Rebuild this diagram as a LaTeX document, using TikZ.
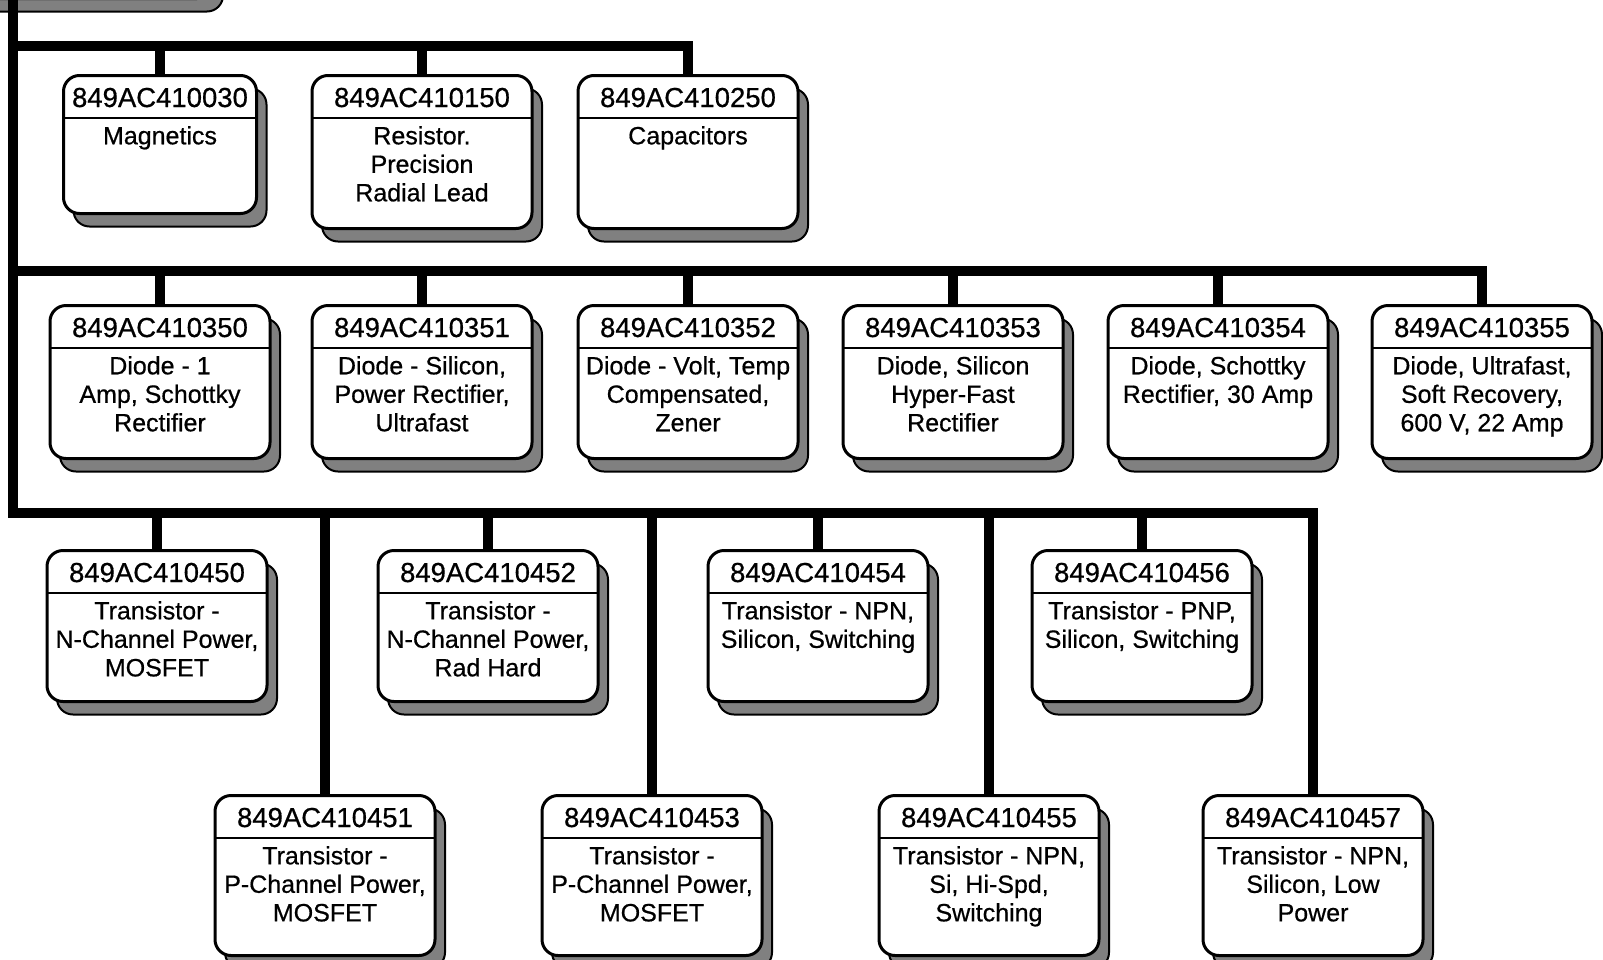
\documentclass[tikz,border=0pt]{standalone}
\usepackage{fontspec}
\setmainfont{Liberation Sans}
\newfontfamily\partfont{Liberation Sans}[FakeBold=0.6]
\usetikzlibrary{shadows}

\begin{document}
\begin{tikzpicture}[x=1pt,y=-1pt,
	bus/.style={line width=10pt},
	pbox/.style={draw, line width=3pt, rounded corners=16pt, fill=white,
		minimum width=220pt, minimum height=153pt, anchor=north,
		drop shadow={shadow xshift=10pt, shadow yshift=-13pt, fill=black!50, draw=black, line width=2pt, opacity=1},
		path picture={\draw[line width=2pt] ([yshift=-42pt]path picture bounding box.north west) -- ([yshift=-42pt]path picture bounding box.north east);}},
	pid/.style={anchor=base, inner sep=0pt, yshift=-33pt, font=\partfont\fontsize{27.5}{30}\selectfont},
	pbody/.style={anchor=north, inner sep=0pt, yshift=-52pt, align=center, font=\partfont\fontsize{25}{28.5}\selectfont}]
	\useasboundingbox (0,0) rectangle (1603,959);

	% parent box, cut off at the top
	\node[pbox, minimum width=260pt, minimum height=60pt, anchor=south] (top) at (83,0) {};

	% first level
	\node[pbox, minimum width=193pt, minimum height=138pt, label={[pid]north:849AC410030}, label={[pbody]north:Magnetics}] (P030) at (160,74) {};
	\node[pbox, label={[pid]north:849AC410150}, label={[pbody]north:{Resistor.\\Precision\\Radial Lead}}] (P150) at (422,74) {};
	\node[pbox, label={[pid]north:849AC410250}, label={[pbody]north:Capacitors}] (P250) at (688,74) {};

	% diodes
	\node[pbox, label={[pid]north:849AC410350}, label={[pbody]north:{Diode - 1\\Amp, Schottky\\Rectifier}}] (P350) at (160,304) {};
	\node[pbox, label={[pid]north:849AC410351}, label={[pbody]north:{Diode - Silicon,\\Power Rectifier,\\Ultrafast}}] (P351) at (422,304) {};
	\node[pbox, label={[pid]north:849AC410352}, label={[pbody]north:{Diode - Volt, Temp\\Compensated,\\Zener}}] (P352) at (688,304) {};
	\node[pbox, label={[pid]north:849AC410353}, label={[pbody]north:{Diode, Silicon\\Hyper-Fast\\Rectifier}}] (P353) at (953,304) {};
	\node[pbox, label={[pid]north:849AC410354}, label={[pbody]north:{Diode, Schottky\\Rectifier, 30 Amp}}] (P354) at (1218,304) {};
	\node[pbox, label={[pid]north:849AC410355}, label={[pbody]north:{Diode, Ultrafast,\\Soft Recovery,\\600 V, 22 Amp}}] (P355) at (1482,304) {};

	% transistors
	\node[pbox, minimum height=151pt, label={[pid]north:849AC410450}, label={[pbody]north:{Transistor -\\N-Channel Power,\\MOSFET}}] (P450) at (157,549) {};
	\node[pbox, minimum height=151pt, label={[pid]north:849AC410452}, label={[pbody]north:{Transistor -\\N-Channel Power,\\Rad Hard}}] (P452) at (488,549) {};
	\node[pbox, minimum height=151pt, label={[pid]north:849AC410454}, label={[pbody]north:{Transistor - NPN,\\Silicon, Switching}}] (P454) at (818,549) {};
	\node[pbox, minimum height=151pt, label={[pid]north:849AC410456}, label={[pbody]north:{Transistor - PNP,\\Silicon, Switching}}] (P456) at (1142,549) {};
	\node[pbox, minimum height=160pt, label={[pid]north:849AC410451}, label={[pbody]north:{Transistor -\\P-Channel Power,\\MOSFET}}] (P451) at (325,794) {};
	\node[pbox, minimum height=160pt, label={[pid]north:849AC410453}, label={[pbody]north:{Transistor -\\P-Channel Power,\\MOSFET}}] (P453) at (652,794) {};
	\node[pbox, minimum height=160pt, label={[pid]north:849AC410455}, label={[pbody]north:{Transistor - NPN,\\Si, Hi-Spd,\\Switching}}] (P455) at (989,794) {};
	\node[pbox, minimum height=160pt, label={[pid]north:849AC410457}, label={[pbody]north:{Transistor - NPN,\\Silicon, Low\\Power}}] (P457) at (1313,794) {};

	\coordinate (L1) at (13,46);
	\coordinate (L2) at (13,271);
	\coordinate (L3) at (13,513);

	\draw[bus] (top.south -| L1) -- (L3) -| (P457.north);
	\draw[bus] (L1) -| (P250.north);
	\draw[bus] (L2) -| (P355.north);
	\draw[bus] (L1 -| P030.north) -- (P030.north);
	\draw[bus] (L1 -| P150.north) -- (P150.north);
	\draw[bus] (L2 -| P350.north) -- (P350.north);
	\draw[bus] (L2 -| P351.north) -- (P351.north);
	\draw[bus] (L2 -| P352.north) -- (P352.north);
	\draw[bus] (L2 -| P353.north) -- (P353.north);
	\draw[bus] (L2 -| P354.north) -- (P354.north);
	\draw[bus] (L3 -| P450.north) -- (P450.north);
	\draw[bus] (L3 -| P451.north) -- (P451.north);
	\draw[bus] (L3 -| P452.north) -- (P452.north);
	\draw[bus] (L3 -| P453.north) -- (P453.north);
	\draw[bus] (L3 -| P454.north) -- (P454.north);
	\draw[bus] (L3 -| P455.north) -- (P455.north);
	\draw[bus] (L3 -| P456.north) -- (P456.north);

\end{tikzpicture}
\end{document}
